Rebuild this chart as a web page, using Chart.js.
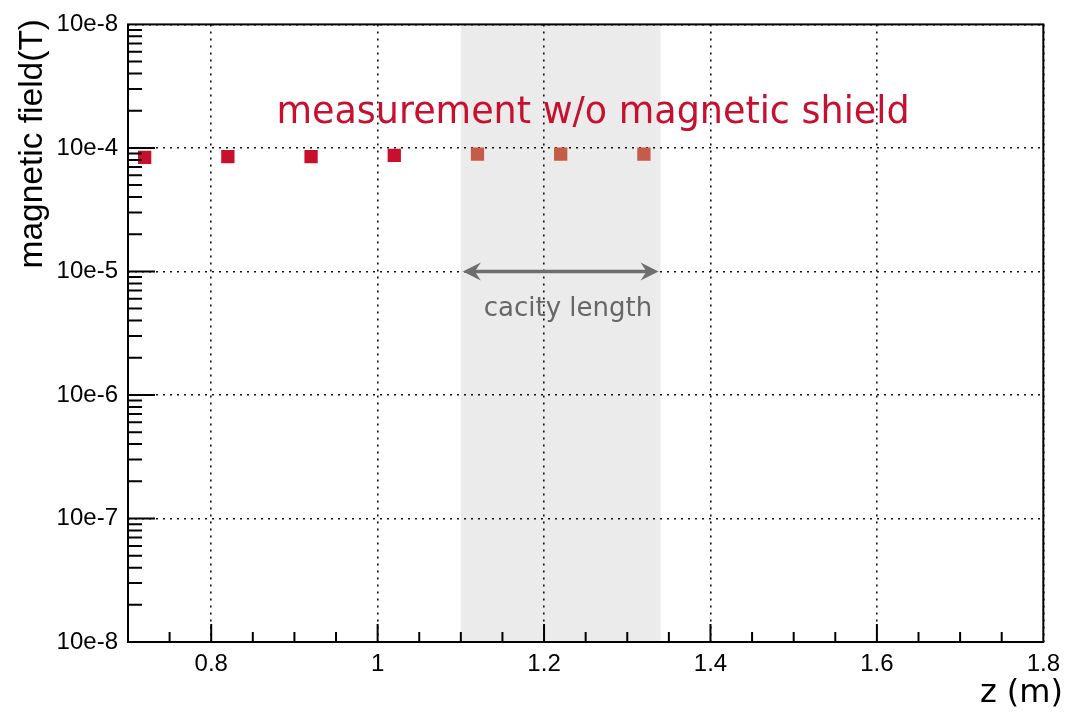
<!DOCTYPE html>
<html lang="en">
<head>
    <meta charset="UTF-8">
    <title>magnetic field</title>
    <script src="https://cdn.jsdelivr.net/npm/chart.js"></script>
    <style>
        body { margin: 0; background: #fff; }
    </style>
</head>
<body>
    <canvas id="myChart" width="1068" height="714"></canvas>
    <script>
        // Mesures (z en m, champ en T)
        const zPositions = [0.72, 0.82, 0.92, 1.02, 1.12, 1.22, 1.32];
        const fieldValues = [8.4e-5, 8.5e-5, 8.5e-5, 8.7e-5, 8.9e-5, 8.9e-5, 8.9e-5];

        // Axes
        const xTicks = [0.8, 1.0, 1.2, 1.4, 1.6, 1.8];
        const xTickLabels = ['0.8', '1', '1.2', '1.4', '1.6', '1.8'];
        const yTicks = [1e-8, 1e-7, 1e-6, 1e-5, 1e-4, 1e-3];
        const yTickLabels = ['10e-8', '10e-7', '10e-6', '10e-5', '10e-4', '10e-8'];

        // Zone de la cavité
        const cavityStart = 1.1;
        const cavityEnd = 1.34;
        const arrowLevel = 1e-5;

        const red = '#c8102e';
        const redShaded = '#c45c48';

        const decorPlugin = {
            id: 'decor',
            beforeDraw(chart) {
                const ctx = chart.ctx;
                const area = chart.chartArea;
                const x = chart.scales.x;
                ctx.save();
                ctx.fillStyle = '#fff';
                ctx.fillRect(0, 0, chart.width, chart.height);
                ctx.fillStyle = '#ebebeb';
                const x0 = x.getPixelForValue(cavityStart);
                const x1 = x.getPixelForValue(cavityEnd);
                ctx.fillRect(x0, area.top, x1 - x0, area.bottom - area.top);
                ctx.restore();
            },
            afterDraw(chart) {
                const ctx = chart.ctx;
                const area = chart.chartArea;
                const x = chart.scales.x;
                const y = chart.scales.y;
                ctx.save();
                ctx.setLineDash([]);

                // cadre
                ctx.strokeStyle = '#000';
                ctx.lineWidth = 2;
                ctx.strokeRect(area.left, area.top, area.right - area.left, area.bottom - area.top);

                // graduations vers l'intérieur
                ctx.lineWidth = 2;
                ctx.beginPath();
                for (let v = 0.75; v < 1.8; v += 0.05) {
                    const px = x.getPixelForValue(v);
                    const major = Math.abs(Math.round(v * 100) % 20) === 0;
                    const len = major ? 18 : 10;
                    ctx.moveTo(px, area.bottom);
                    ctx.lineTo(px, area.bottom - len);
                }
                for (let d = -8; d < -3; d++) {
                    for (let m = 1; m <= 9; m++) {
                        const v = m * Math.pow(10, d);
                        const py = y.getPixelForValue(v);
                        const len = m === 1 ? 27 : 14;
                        ctx.moveTo(area.left, py);
                        ctx.lineTo(area.left + len, py);
                    }
                }
                ctx.stroke();

                // flèche
                const ay = y.getPixelForValue(arrowLevel);
                const ax0 = x.getPixelForValue(cavityStart) + 2;
                const ax1 = x.getPixelForValue(cavityEnd) - 2;
                ctx.strokeStyle = '#6e6e6e';
                ctx.fillStyle = '#6e6e6e';
                ctx.lineWidth = 3.5;
                ctx.beginPath();
                ctx.moveTo(ax0 + 8, ay);
                ctx.lineTo(ax1 - 8, ay);
                ctx.stroke();
                [[ax0, 1], [ax1, -1]].forEach(function(a) {
                    const tip = a[0], dir = a[1];
                    ctx.beginPath();
                    ctx.moveTo(tip, ay);
                    ctx.lineTo(tip + dir * 18, ay - 9);
                    ctx.lineTo(tip + dir * 12, ay);
                    ctx.lineTo(tip + dir * 18, ay + 9);
                    ctx.closePath();
                    ctx.fill();
                });

                // textes
                ctx.fillStyle = '#666';
                ctx.font = '26px "DejaVu Sans"';
                ctx.textAlign = 'center';
                ctx.textBaseline = 'alphabetic';
                ctx.fillText('cacity length', 568, 316);

                ctx.fillStyle = red;
                ctx.font = '36.5px "DejaVu Sans"';
                ctx.fillText('measurement w/o magnetic shield', 593, 123);

                ctx.fillStyle = '#000';
                ctx.font = '32px "DejaVu Sans"';
                ctx.textAlign = 'right';
                ctx.fillText('z (m)', 1063, 702);

                ctx.save();
                ctx.translate(42, 19);
                ctx.rotate(-Math.PI / 2);
                ctx.font = '33.5px "Liberation Sans"';
                ctx.textAlign = 'right';
                ctx.fillText('magnetic field(T)', 0, 0);
                ctx.restore();

                ctx.restore();
            }
        };

        const ctx = document.getElementById('myChart').getContext('2d');
        const myChart = new Chart(ctx, {
            type: 'scatter',
            data: {
                datasets: [{
                    label: 'B',
                    data: zPositions.map(function(z, i) { return { x: z, y: fieldValues[i] }; }),
                    pointStyle: 'rect',
                    pointRadius: 9.4,
                    pointBorderWidth: 0,
                    pointBackgroundColor: function(c) {
                        const v = c.raw ? c.raw.x : 0;
                        return (v > cavityStart && v < cavityEnd) ? redShaded : red;
                    },
                    pointBorderColor: 'rgba(0,0,0,0)'
                }]
            },
            options: {
                responsive: false,
                animation: false,
                layout: { padding: { left: 0, top: 21, right: 24, bottom: 0 } },
                plugins: {
                    legend: { display: false },
                    tooltip: { enabled: false }
                },
                scales: {
                    x: {
                        type: 'linear',
                        min: 0.7,
                        max: 1.8,
                        afterBuildTicks: function(scale) {
                            scale.ticks = xTicks.map(function(v) { return { value: v }; });
                        },
                        afterFit: function(scale) { scale.height = 72; },
                        ticks: {
                            padding: 8,
                            color: '#000',
                            font: { family: 'Liberation Sans', size: 24 },
                            maxRotation: 0,
                            callback: function(v, i) { return xTickLabels[i]; }
                        },
                        grid: { color: '#111', lineWidth: 1.6, drawTicks: false },
                        border: { display: false, dash: [2, 5] }
                    },
                    y: {
                        type: 'logarithmic',
                        min: 1e-8,
                        max: 1e-3,
                        afterBuildTicks: function(scale) {
                            scale.ticks = yTicks.map(function(v) { return { value: v }; });
                        },
                        afterFit: function(scale) { scale.width = 128; },
                        ticks: {
                            padding: 10,
                            color: '#000',
                            font: { family: 'Liberation Sans', size: 24 },
                            callback: function(v, i) { return yTickLabels[i]; }
                        },
                        grid: { color: '#111', lineWidth: 1.6, drawTicks: false },
                        border: { display: false, dash: [2, 5] }
                    }
                }
            },
            plugins: [decorPlugin]
        });
    </script>
</body>
</html>
